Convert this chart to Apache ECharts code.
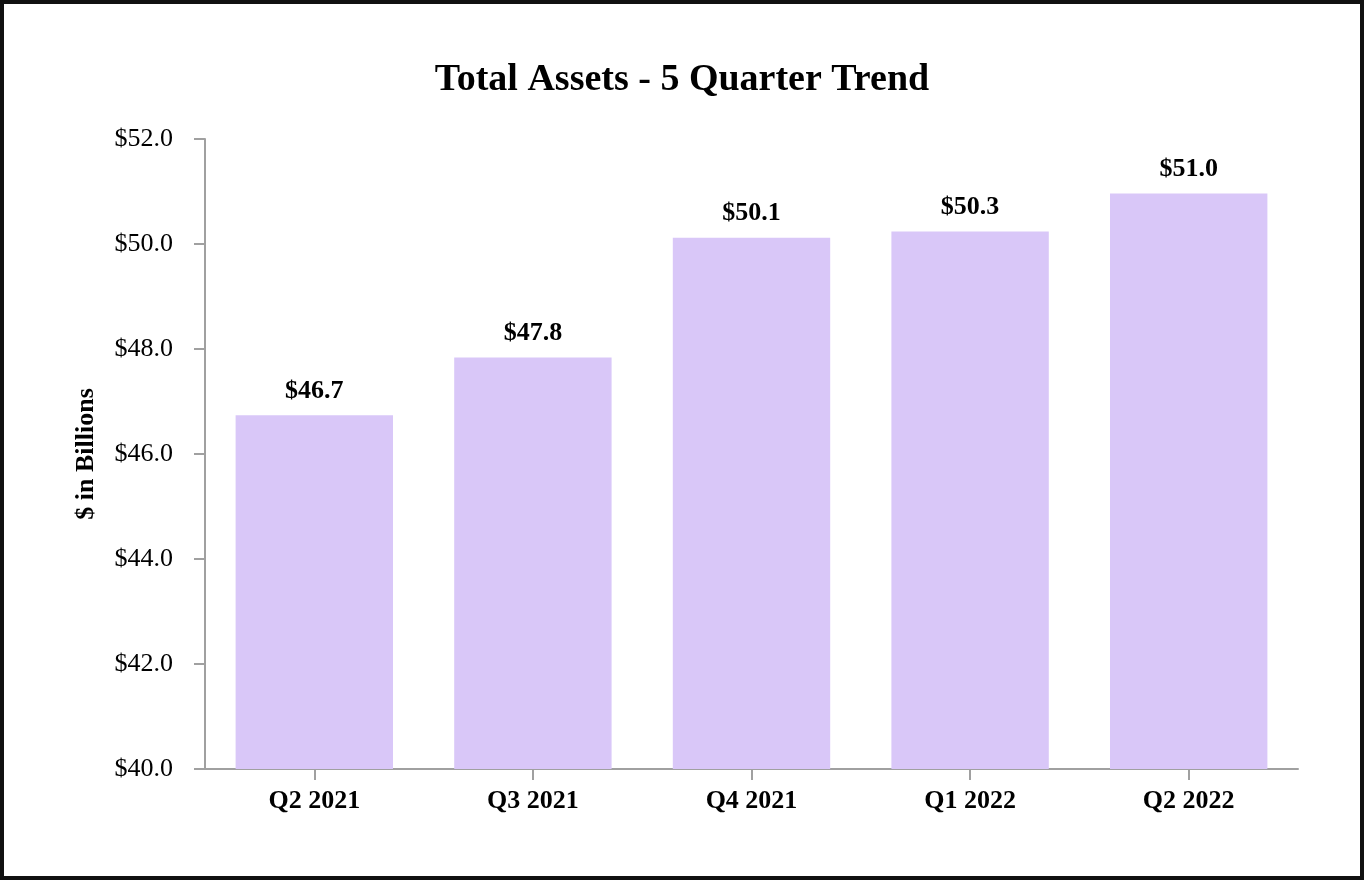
<!DOCTYPE html>
<html>
<head>
<meta charset="utf-8">
<script src="https://cdn.jsdelivr.net/npm/echarts@6/dist/echarts.min.js"></script>
<style>
html,body{margin:0;padding:0;background:#fff;}
#wrap{position:relative;width:1364px;height:880px;}
#chart{position:absolute;left:0;top:0;width:1364px;height:880px;}
#frame{position:absolute;left:0;top:0;width:1364px;height:880px;box-sizing:border-box;border:4px solid #111;pointer-events:none;}
</style>
</head>
<body>
<div id="wrap">
    <div id="chart"></div>
    <div id="frame"></div>
</div>
<script>
var quarters=['Q2 2021','Q3 2021','Q4 2021','Q1 2022','Q2 2022'];
var totalAssets=[46.74,47.84,50.12,50.24,50.96];
var valueLabels=['$46.7','$47.8','$50.1','$50.3','$51.0'];
var font='"Liberation Serif","Times New Roman",serif';
var chart=echarts.init(document.getElementById('chart'));
chart.setOption({
    animation:false,
    title:{
        text:'Total Assets - 5 Quarter Trend',
        left:'center',
        top:56,
        textStyle:{fontFamily:font,fontSize:38,fontWeight:'bold',color:'#000'}
    },
    grid:{left:205,right:66,top:139,bottom:111},
    xAxis:{
        type:'category',
        data:quarters,
        axisLine:{lineStyle:{color:'#a0a0a0',width:2}},
        axisTick:{show:true,alignWithLabel:true,length:11,lineStyle:{color:'#a0a0a0',width:2}},
        axisLabel:{fontFamily:font,fontSize:26,fontWeight:'bold',color:'#000',margin:19}
    },
    yAxis:{
        type:'value',
        min:40,
        max:52,
        interval:2,
        name:'$ in Billions',
        nameLocation:'middle',
        nameGap:106,
        nameTextStyle:{fontFamily:font,fontSize:26,fontWeight:'bold',color:'#000'},
        splitLine:{show:false},
        axisLine:{show:true,lineStyle:{color:'#a0a0a0',width:2}},
        axisTick:{show:true,length:11,lineStyle:{color:'#a0a0a0',width:2}},
        axisLabel:{
            fontFamily:font,fontSize:26,color:'#000',margin:32,
            formatter:function(v){return '$'+v.toFixed(1);}
        }
    },
    series:[{
        type:'bar',
        data:totalAssets,
        barWidth:'72%',
        itemStyle:{color:'#d9c7f8'},
        label:{
            show:true,
            position:'top',
            distance:11,
            fontFamily:font,fontSize:26,fontWeight:'bold',color:'#000',
            formatter:function(p){return valueLabels[p.dataIndex];}
        }
    }]
});
</script>
</body>
</html>
